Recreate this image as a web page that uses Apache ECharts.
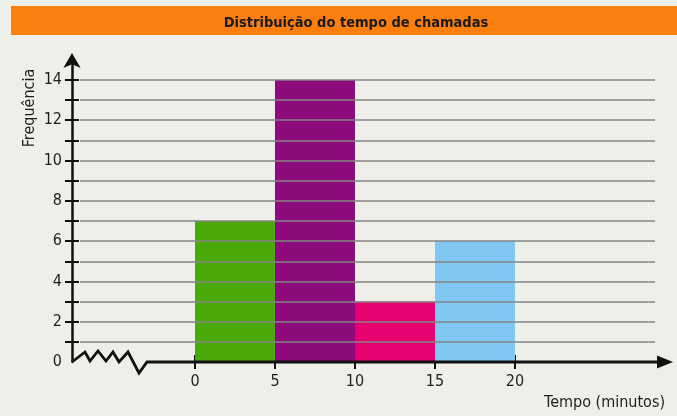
<!DOCTYPE html>
<html>
<head>
<meta charset="utf-8">
<script src="https://cdn.jsdelivr.net/npm/echarts@6/dist/echarts.min.js"></script>
<style>
html,body{margin:0;padding:0;background:#efefe9;}
#chart{width:677px;height:416px;}
</style>
</head>
<body>
<div id="chart"></div>
<script>
// ---- data ----
var titleText = 'Distribuição do tempo de chamadas';
var yName = 'Frequência';
var xName = 'Tempo (minutos)';
var binStart = [0, 5, 10, 15];
var binEnd = [5, 10, 15, 20];
var freq = [7, 14, 3, 6];
var barColors = ['#4ba90c', '#8d0b7d', '#e5016f', '#80c8f1'];
var xTickValues = [0, 5, 10, 15, 20];
var yTickValues = [1, 2, 3, 4, 5, 6, 7, 8, 9, 10, 11, 12, 13, 14];
var yLabelValues = [0, 2, 4, 6, 8, 10, 12, 14];
var gridValues = [1, 2, 3, 4, 5, 6, 7, 8, 9, 10, 11, 12, 13, 14];

var FONT = '"Liberation Sans Narrow", "DejaVu Sans Condensed", sans-serif';
var X_MIN = -7.6875, X_MAX = 29.5625, Y_MAX = 15.04, GRID_END = 28.75;

var chart = echarts.init(document.getElementById('chart'), null, {renderer: 'canvas'});

var barData = binStart.map(function (s, i) { return [s, binEnd[i], freq[i]]; });

function xAxisBase(inside, showLabel) {
  return {
    type: 'value', min: X_MIN, max: X_MAX, position: 'bottom',
    axisLine: {show: false, onZero: false},
    splitLine: {show: false},
    axisTick: {show: true, inside: inside, length: 7, customValues: xTickValues,
      lineStyle: {color: '#111', width: 2}},
    axisLabel: {show: showLabel, customValues: xTickValues, margin: 12,
      fontFamily: FONT, fontSize: 16, color: '#1e1e1e'}
  };
}
function yAxisBase(inside, showLabel, showLine) {
  return {
    type: 'value', min: 0, max: Y_MAX, position: 'left',
    axisLine: {show: showLine, onZero: false, symbol: ['none', 'arrow'], symbolSize: [13, 15],
      symbolOffset: [0, 6],
      lineStyle: {color: '#111', width: 2.5}},
    splitLine: {show: false},
    axisTick: {show: true, inside: inside, length: 7, customValues: yTickValues,
      lineStyle: {color: '#111', width: 2}},
    axisLabel: {show: showLabel, customValues: yLabelValues, margin: 10,
      fontFamily: FONT, fontSize: 16, color: '#1e1e1e'}
  };
}

chart.setOption({
  backgroundColor: '#efefe9',
  animation: false,
  title: {
    text: titleText, left: 351, top: 11, textAlign: 'center',
    textStyle: {fontFamily: FONT, fontSize: 14.5, fontWeight: 'bold', color: '#1a1a1a'}
  },
  grid: {left: 72, right: 9, top: 59, bottom: 54, containLabel: false},
  xAxis: [xAxisBase(false, true), xAxisBase(true, false)],
  yAxis: [yAxisBase(false, true, true), yAxisBase(true, false, false)],
  series: [
    {
      type: 'line', data: [], silent: true, z: 1,
      markLine: {
        silent: true, symbol: 'none', label: {show: false},
        lineStyle: {color: '#858585', width: 1.5, type: 'solid'},
        data: gridValues.map(function (v) { return [{coord: [X_MIN + 0.5, v]}, {coord: [GRID_END, v]}]; })
      }
    },
    {
      type: 'custom', z: 3,
      data: barData,
      renderItem: function (params, api) {
        var p0 = api.coord([api.value(0), api.value(2)]);
        var p1 = api.coord([api.value(1), 0]);
        return {
          type: 'rect',
          shape: {x: p0[0], y: p0[1], width: p1[0] - p0[0], height: p1[1] - p0[1]},
          style: {fill: barColors[params.dataIndex]}
        };
      },
      encode: {x: [0, 1], y: 2}
    }
  ]
});

// decorations: title bar, axis names, broken x axis line
var o = chart.convertToPixel({xAxisIndex: 0, yAxisIndex: 0}, [X_MIN, 0]);
var ox = o[0], oy = o[1];
var zig = [[0,0],[13,-10],[18,-1],[26,-11],[34,-1],[41,-10],[47,0],[56,-10],[67,11],[75,0]];
var pts = zig.map(function (p) { return [ox + p[0], oy + p[1]]; });
var lineEnd = chart.getWidth() - 18;
pts.push([lineEnd, oy]);

chart.setOption({
  graphic: [
    {type: 'rect', z: -10, shape: {x: 11, y: 6, width: 666, height: 29}, style: {fill: '#fb7f0e'}},
    {type: 'text', x: 30, y: 108, rotation: Math.PI / 2,
      style: {text: yName, font: '16px ' + FONT, fill: '#1e1e1e', align: 'center', verticalAlign: 'middle'}},
    {type: 'text', x: 665, y: 403,
      style: {text: xName, font: '16px ' + FONT, fill: '#1e1e1e', align: 'right', verticalAlign: 'middle'}},
    {type: 'polyline', z: 10, shape: {points: pts}, style: {stroke: '#111', lineWidth: 2.8, fill: null, lineJoin: 'miter'}},
    {type: 'polygon', z: 10, shape: {points: [[lineEnd - 2, oy - 6.5], [lineEnd + 14, oy], [lineEnd - 2, oy + 6.5]]}, style: {fill: '#111'}}
  ]
});
</script>
</body>
</html>
